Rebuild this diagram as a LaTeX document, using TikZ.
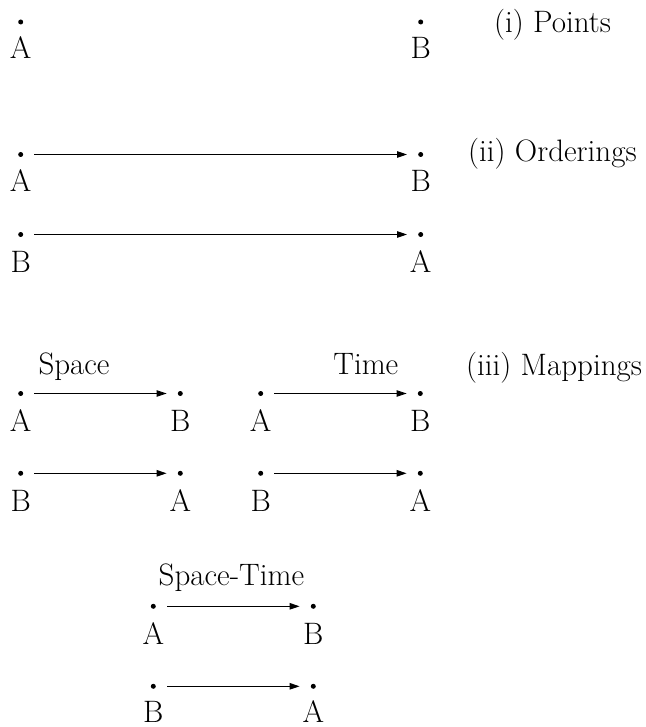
\documentclass[tikz,border=0pt]{standalone}
\usetikzlibrary{arrows.meta}
\begin{document}
\begin{tikzpicture}[x=1pt,y=-1pt,
  every node/.style={font=\fontsize{31}{36}\selectfont, inner sep=0pt},
  dot/.style={circle, fill=black, minimum size=5pt, inner sep=0pt},
  lab/.style={anchor=base},
  ttl/.style={anchor=base west},
  arr/.style={line width=0.9pt, -{Triangle[length=10pt,width=6.5pt]}, shorten <=11pt, shorten >=11pt}]
\useasboundingbox (0,0) rectangle (645,727);
% (i) Points
\node[dot] (p1a) at (20.7,22) {};
\node[dot] (p1b) at (420.7,22) {};
\node[lab] (l1a) at (20.7,58.5) {A};
\node[lab] (l1b) at (420.7,58.5) {B};
\node[ttl] (t1) at (494,33) {(i) Points};
% (ii) Orderings
\node[dot] (p2a) at (20.7,154.5) {};
\node[dot] (p2b) at (420.7,154.5) {};
\node[lab] (l2a) at (20.7,192) {A};
\node[lab] (l2b) at (420.7,192) {B};
\draw[arr] (p2a) -- (p2b);
\node[dot] (p3a) at (20.7,234.5) {};
\node[dot] (p3b) at (420.7,234.5) {};
\node[lab] (l3a) at (20.7,272) {B};
\node[lab] (l3b) at (420.7,272) {A};
\draw[arr] (p3a) -- (p3b);
\node[ttl] (t2) at (468,161.7) {(ii) Orderings};
% (iii) Mappings
\node[ttl] (t3) at (466,375) {(iii) Mappings};
\node[ttl] (sp) at (38.3,374.5) {Space};
\node[anchor=base east] (tm) at (398.5,374.5) {Time};
\node[dot] (m1a) at (20.7,393.5) {};
\node[dot] (m1b) at (180.3,393.5) {};
\node[lab] (ml1a) at (20.7,431.5) {A};
\node[lab] (ml1b) at (180.3,431.5) {B};
\draw[arr] (m1a) -- (m1b);
\node[dot] (m2a) at (260.7,393.5) {};
\node[dot] (m2b) at (420.3,393.5) {};
\node[lab] (ml2a) at (260.7,431.5) {A};
\node[lab] (ml2b) at (420.3,431.5) {B};
\draw[arr] (m2a) -- (m2b);
\node[dot] (m3a) at (20.7,473.3) {};
\node[dot] (m3b) at (180.3,473.3) {};
\node[lab] (ml3a) at (20.7,511) {B};
\node[lab] (ml3b) at (180.3,511) {A};
\draw[arr] (m3a) -- (m3b);
\node[dot] (m4a) at (260.7,473.3) {};
\node[dot] (m4b) at (420.3,473.3) {};
\node[lab] (ml4a) at (260.7,511) {B};
\node[lab] (ml4b) at (420.3,511) {A};
\draw[arr] (m4a) -- (m4b);
% Space-Time
\node[ttl] (st) at (158.5,585) {Space-Time};
\node[dot] (s1a) at (153.3,606.3) {};
\node[dot] (s1b) at (313.3,606.3) {};
\node[lab] (sl1a) at (153.3,644) {A};
\node[lab] (sl1b) at (313.3,644) {B};
\draw[arr] (s1a) -- (s1b);
\node[dot] (s2a) at (153.3,686.3) {};
\node[dot] (s2b) at (313.3,686.3) {};
\node[lab] (sl2a) at (153.3,722) {B};
\node[lab] (sl2b) at (313.3,722) {A};
\draw[arr] (s2a) -- (s2b);
\end{tikzpicture}
\end{document}
